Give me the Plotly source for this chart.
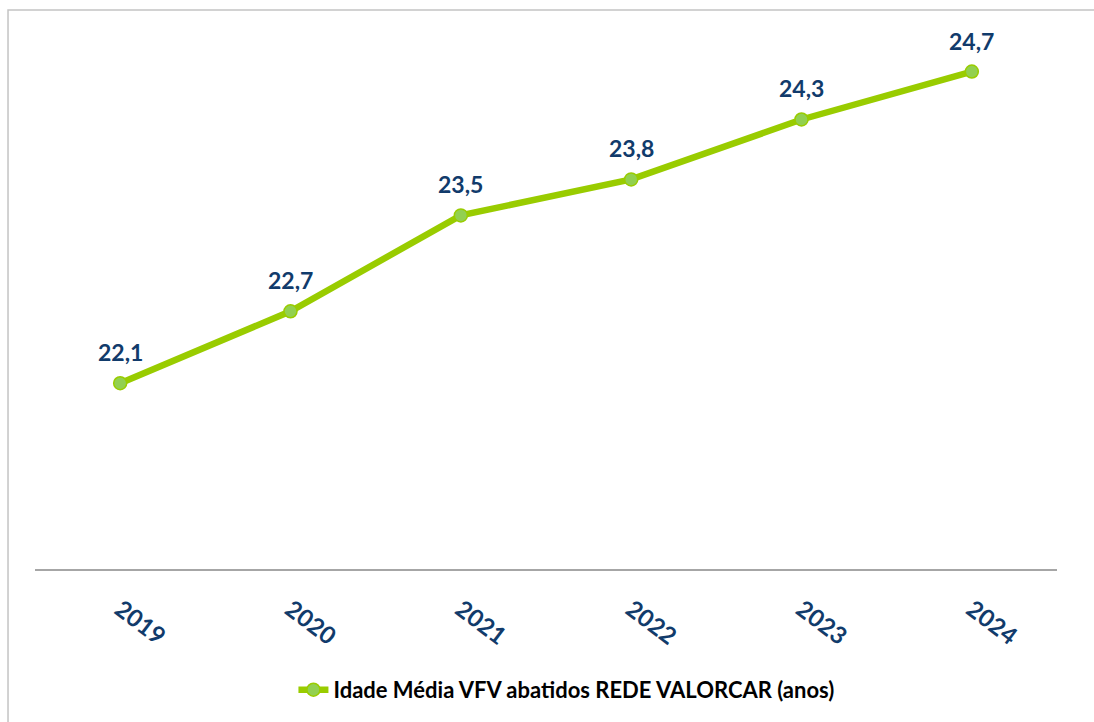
import plotly.graph_objects as go

years = ["2019", "2020", "2021", "2022", "2023", "2024"]
idade = [22.1, 22.7, 23.5, 23.8, 24.3, 24.7]
labels = ["22,1", "22,7", "23,5", "23,8", "24,3", "24,7"]
series_name = "Idade Média VFV abatidos REDE VALORCAR (anos)"

FONT = "Lato"
BLUE = "#113B6B"

fig = go.Figure()
fig.add_trace(go.Scatter(
    x=years, y=idade, mode="lines+markers", name=series_name,
    line=dict(color="#99CC00", width=6.5),
    marker=dict(size=13, color="#92D050", line=dict(color="#99CC00", width=1.5)),
))

for i, (y, t) in enumerate(zip(idade, labels)):
    fig.add_annotation(x=i, y=y, xref="x", yref="y", text=t, showarrow=False,
                       yanchor="bottom", yshift=15,
                       font=dict(family=FONT, size=23, color=BLUE, weight="bold"))

fig.add_shape(type="rect", xref="paper", yref="paper",
              x0=-0.0264, x1=1.2, y0=-0.5, y1=1.018,
              line=dict(color="#C4C4C4", width=1.5), layer="below")

fig.update_layout(
    width=1094, height=722,
    margin=dict(l=35, r=37, t=20, b=152),
    paper_bgcolor="white", plot_bgcolor="white",
    showlegend=True,
    legend=dict(orientation="h", x=0.52, xanchor="center", y=-0.218, yanchor="middle",
                font=dict(family=FONT, size=22, color="black", weight="bold")),
    xaxis=dict(type="category", range=[-0.5, 5.5], showgrid=False, zeroline=False,
               showline=True, linecolor="#A6A6A6", linewidth=2, ticks="",
               tickangle=37, ticklabelstandoff=15,
               tickfont=dict(family=FONT, size=24, color=BLUE, weight="bold")),
    yaxis=dict(range=[20.55, 25.13], visible=False, showgrid=False, zeroline=False),
)

fig.write_html("out.html", config={"displayModeBar": False},
               post_script="document.body.style.margin='0px';")
